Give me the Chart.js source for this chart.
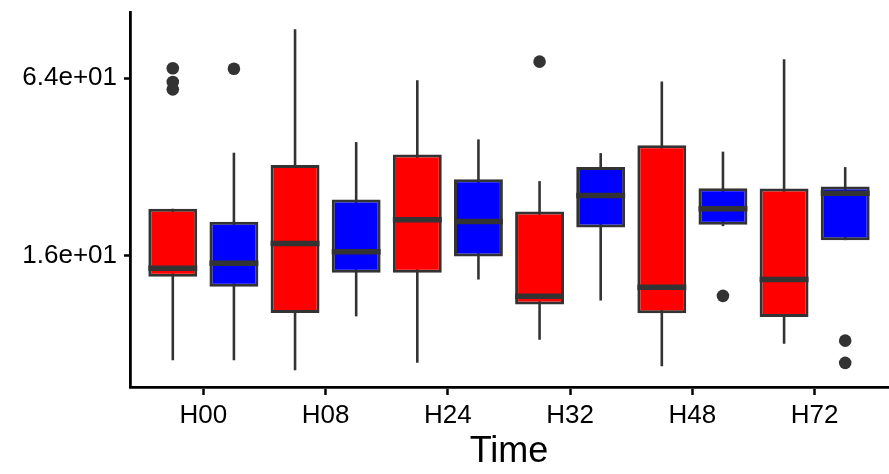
<!DOCTYPE html>
<html>
<head>
<meta charset="utf-8">
<script src="https://cdn.jsdelivr.net/npm/chart.js@4.4.1/dist/chart.umd.min.js"></script>
<style>
  html, body { margin: 0; padding: 0; background: #fff; }
  #wrap { width: 889px; height: 474px; position: relative; }
</style>
</head>
<body>
<div id="wrap"><canvas id="c"></canvas></div>
<script>
// ---- data ----
const categories = ['H00', 'H08', 'H24', 'H32', 'H48', 'H72'];

const redLow     = [7.05, 6.52, 6.91, 8.28, 6.73, 8.03];
const redQ1      = [13.54, 10.21, 13.97, 10.90, 10.18, 9.90];
const redMedian  = [14.48, 17.58, 21.16, 11.63, 12.48, 13.26];
const redQ3      = [23.07, 32.45, 35.29, 22.58, 37.87, 27.04];
const redHigh    = [23.07, 93.9, 63.0, 28.63, 62.36, 74.26];
const redOutliers = [[69.2, 62.2, 58.7], [], [], [72.9], [], []];

const blueLow    = [7.05, 9.94, 13.26, 11.25, 20.13, 18.04];
const blueQ1     = [12.52, 13.97, 15.87, 19.92, 20.35, 18.04];
const blueMedian = [15.06, 16.47, 20.88, 25.6, 23.07, 26.06];
const blueQ3     = [20.83, 24.81, 29.08, 31.95, 27.1, 27.47];
const blueHigh   = [35.76, 38.86, 39.69, 35.65, 36.05, 31.95];
const blueOutliers = [[69.0], [], [], [], [11.67], [8.22, 6.91]];

const yTickValues = [16, 64];
const yTickLabels = ['1.6e+01', '6.4e+01'];
const xTitle = 'Time';

// ---- build ----
const groups = [
  { low: redLow, q1: redQ1, med: redMedian, q3: redQ3, high: redHigh, out: redOutliers, color: '#FF0000', dodge: -0.25 },
  { low: blueLow, q1: blueQ1, med: blueMedian, q3: blueQ3, high: blueHigh, out: blueOutliers, color: '#0000FF', dodge: 0.25 }
];
const EDGE = '#333333';
const FONT = "'Liberation Sans', Arial, sans-serif";

const barSets = groups.map((g, gi) => ({
  type: 'bar',
  label: gi === 0 ? 'A' : 'B',
  data: categories.map((c, i) => ({ x: i, y: [g.q1[i], g.q3[i]] })),
  backgroundColor: g.color,
  borderColor: EDGE,
  borderWidth: 3,
  borderSkipped: false,
  categoryPercentage: 1.0,
  barPercentage: 0.8,
  order: 2
}));

const outSets = groups.map((g, gi) => ({
  type: 'scatter',
  label: 'out' + gi,
  data: g.out.flatMap((arr, i) => arr.map(v => ({ x: i + g.dodge, y: v }))),
  backgroundColor: EDGE,
  borderColor: EDGE,
  pointRadius: 6.3,
  pointBorderWidth: 0,
  order: 1
}));

const boxParts = {
  id: 'boxParts',
  beforeDatasetsDraw(chart) {
    const ctx = chart.ctx, y = chart.scales.y;
    ctx.save();
    ctx.strokeStyle = EDGE;
    ctx.lineWidth = 2.6;
    groups.forEach((g, gi) => {
      chart.getDatasetMeta(gi).data.forEach((el, i) => {
        const x = el.x;
        ctx.beginPath();
        ctx.moveTo(x, y.getPixelForValue(g.low[i]));
        ctx.lineTo(x, y.getPixelForValue(g.high[i]));
        ctx.stroke();
      });
    });
    ctx.restore();
  },
  afterDatasetsDraw(chart) {
    const ctx = chart.ctx, y = chart.scales.y;
    ctx.save();
    ctx.strokeStyle = EDGE;
    ctx.lineWidth = 5.5;
    ctx.lineCap = 'butt';
    groups.forEach((g, gi) => {
      chart.getDatasetMeta(gi).data.forEach((el, i) => {
        const p = y.getPixelForValue(g.med[i]);
        ctx.beginPath();
        ctx.moveTo(el.x - el.width / 2, p);
        ctx.lineTo(el.x + el.width / 2, p);
        ctx.stroke();
      });
    });
    ctx.restore();
  }
};

new Chart(document.getElementById('c'), {
  data: { datasets: [...barSets, ...outSets] },
  options: {
    responsive: true,
    maintainAspectRatio: false,
    animation: false,
    events: [],
    layout: { autoPadding: false, padding: { top: 12, right: 1, left: 0, bottom: 0 } },
    plugins: { legend: { display: false }, tooltip: { enabled: false } },
    scales: {
      x: {
        type: 'linear',
        min: -0.6,
        max: 5.6,
        offset: false,
        afterBuildTicks: (s) => { s.ticks = categories.map((c, i) => ({ value: i })); },
        afterFit: (s) => { s.height = 87; s.paddingLeft = 0; s.paddingRight = 0; },
        ticks: {
          autoSkip: false, maxRotation: 0, padding: 5,
          color: '#000', font: { family: FONT, size: 26 },
          callback: (v) => categories[v]
        },
        grid: { offset: false, drawOnChartArea: false, drawTicks: true, tickLength: 8, tickColor: '#000', tickWidth: 2.5 },
        border: { display: true, color: '#000', width: 2.8 },
        title: { display: true, text: xTitle, color: '#000', font: { family: FONT, size: 36 }, padding: { top: 0, bottom: 0 } }
      },
      y: {
        type: 'logarithmic',
        min: 5.72,
        max: 107.5,
        afterBuildTicks: (s) => { s.ticks = yTickValues.map(v => ({ value: v })); },
        afterFit: (s) => { s.width = 130; s.paddingTop = 0; s.paddingBottom = 0; },
        ticks: {
          padding: 7, color: '#000', font: { family: FONT, size: 26 },
          callback: (v, i) => yTickLabels[i]
        },
        grid: { drawOnChartArea: false, drawTicks: true, tickLength: 6, tickColor: '#000', tickWidth: 2.5 },
        border: { display: true, color: '#000', width: 2.8 }
      }
    }
  },
  plugins: [boxParts]
});
</script>
</body>
</html>
